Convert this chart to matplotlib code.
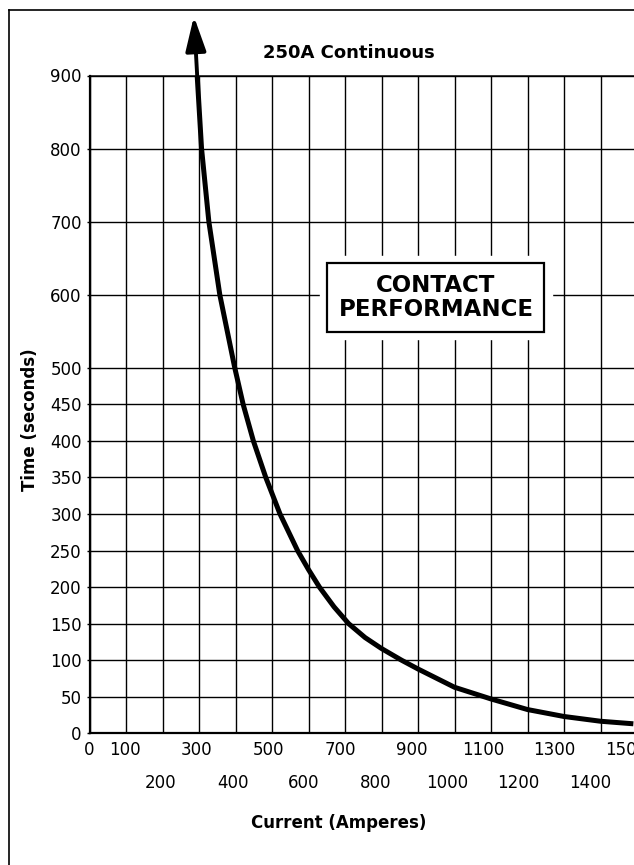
import matplotlib
matplotlib.use("Agg")
import matplotlib.pyplot as plt
from matplotlib.lines import Line2D

# valeurs (courant en A, temps en s)
courant = [295, 307, 327, 357, 398, 421, 449, 483, 522, 570, 600, 630, 670,
           710, 755, 800, 855, 900, 1000, 1100, 1200, 1300, 1400, 1490]
temps = [900, 800, 700, 600, 500, 450, 400, 350, 300, 250, 224, 200, 173,
         150, 131, 116, 100, 88, 63, 47, 32.5, 23, 16.5, 13]

# pointe de la fleche (au-dessus du graphe)
fleche_x = 286
fleche_y = 981

y_ticks = [0, 50, 100, 150, 200, 250, 300, 350, 400, 450, 500, 600, 700, 800, 900]
x_rang1 = [0, 100, 300, 500, 700, 900, 1100, 1300, 1500]
x_rang2 = [200, 400, 600, 800, 1000, 1200, 1400]

titre = "250A Continuous"
boite = "CONTACT\nPERFORMANCE"

plt.rcParams['font.family'] = ['DejaVu Sans']

fig = plt.figure(figsize=(6.34, 8.65), dpi=100)
ax = fig.add_axes([89.5 / 634, (865 - 733.3) / 865, 547.5 / 634, 657.8 / 865])

ax.set_xlim(0, 1500)
ax.set_ylim(0, 900)

# graduations
ax.set_yticks(y_ticks)
ax.set_yticklabels([str(v) for v in y_ticks])
ax.set_xticks(x_rang1)
ax.set_xticks(x_rang2, minor=True)
ax.tick_params(axis='y', length=2.5, width=1, pad=3, labelsize=12)
ax.tick_params(axis='x', which='both', length=0, labelbottom=False)

# etiquettes x sur deux rangs (un peu resserrees comme sur l'original)
serre = 0.98
for v in x_rang1:
    ax.annotate(str(v), xy=(v * serre, 0), xycoords=ax.get_xaxis_transform(),
                xytext=(0, -12), textcoords='offset points',
                ha='center', va='center', fontsize=12, annotation_clip=False)
for v in x_rang2:
    ax.annotate(str(v), xy=(v * serre, 0), xycoords=ax.get_xaxis_transform(),
                xytext=(0, -35.8), textcoords='offset points',
                ha='center', va='center', fontsize=12, annotation_clip=False)

ax.set_axisbelow(True)
ax.grid(True, which='both', axis='x', color='black', lw=1.0)
ax.grid(True, which='major', axis='y', color='black', lw=1.0)

for s in ['left', 'bottom']:
    ax.spines[s].set_linewidth(1.6)
ax.spines['top'].set_linewidth(1.1)
ax.spines['right'].set_visible(False)

# courbe
ax.plot(courant, temps, color='black', lw=3.6, solid_joinstyle='round',
        solid_capstyle='butt', zorder=5)
ax.annotate('', xy=(fleche_x, fleche_y), xytext=(courant[0], temps[0]),
            arrowprops=dict(arrowstyle='-|>,head_length=2.1,head_width=0.62',
                            mutation_scale=10, color='black', lw=2.8,
                            shrinkA=0, shrinkB=0),
            annotation_clip=False, zorder=5)

# boite CONTACT PERFORMANCE
ax.text(949, 596, boite, ha='center', va='center', fontsize=16.5,
        fontweight='bold', color='white', linespacing=1.05, zorder=3,
        bbox=dict(boxstyle='square,pad=0.8', fc='white', ec='white'))
ax.text(949, 596, boite, ha='center', va='center', fontsize=16.5,
        fontweight='bold', color='black', linespacing=1.05, zorder=4,
        bbox=dict(boxstyle='square,pad=0.48', fc='white', ec='black', lw=1.6))

# textes
fig.text(348.7 / 634, 1 - 53 / 865, titre, ha='center', va='center',
         fontsize=13, fontweight='bold')
fig.text(339 / 634, 1 - 823 / 865, "Current (Amperes)", ha='center', va='center',
         fontsize=12, fontweight='bold')
fig.text(30 / 634, 1 - 420 / 865, "Time (seconds)", ha='center', va='center',
         fontsize=12, fontweight='bold', rotation=90)

# cadre exterieur
fig.add_artist(Line2D([9 / 634, 1.0], [1 - 10 / 865, 1 - 10 / 865],
                      color='black', lw=1.2))
fig.add_artist(Line2D([9 / 634, 9 / 634], [1 - 10 / 865, 0.0],
                      color='black', lw=1.2))

fig.savefig("out.png", dpi=100)
